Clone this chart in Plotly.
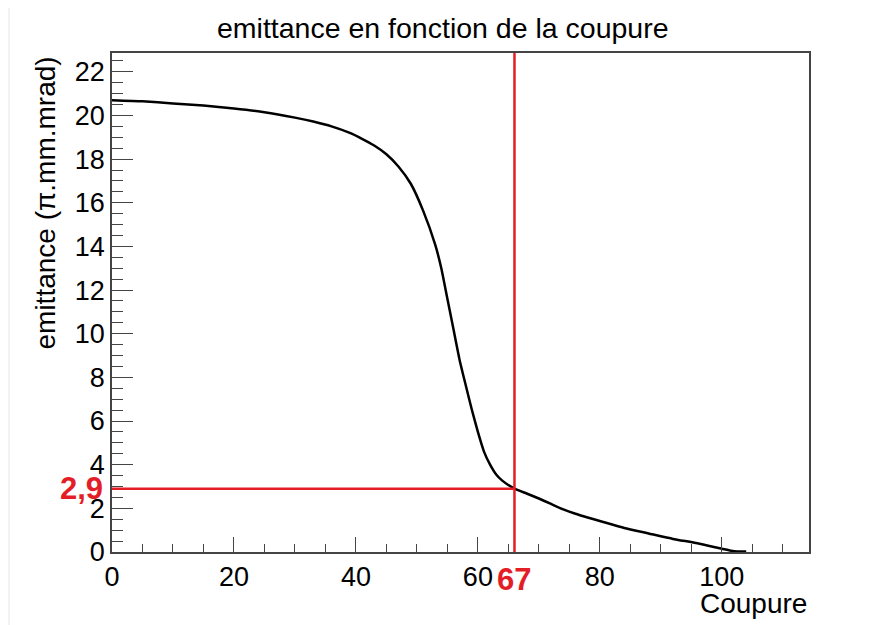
import plotly.graph_objects as go

# emittance vs cut
coupure = [0, 5, 10, 15, 20, 25, 30, 33, 36, 39, 41, 43, 45, 47, 49, 51, 53, 54, 55, 56, 57,
           58, 59, 60, 61, 62, 63, 64, 66, 68, 70, 72, 74, 76, 78, 80, 84, 88, 92, 96,
           100, 102, 104]
emittance = [20.7, 20.65, 20.55, 20.45, 20.32, 20.15, 19.9, 19.72, 19.5, 19.2, 18.93, 18.62,
             18.22, 17.65, 16.87, 15.65, 14.08, 13.0, 11.6, 10.2, 8.8, 7.65, 6.53, 5.5, 4.6,
             4.0, 3.55, 3.27, 2.9, 2.68, 2.45, 2.2, 1.95, 1.75, 1.58, 1.42, 1.1, 0.85, 0.6,
             0.4, 0.15, 0.03, 0.02]

cut_x = 66
cut_y = 2.9
cut_label_x = "67"
cut_label_y = "2,9"

x_range = [0, 114.3]
y_range = [0, 22.86]

# the page body adds an 8px margin around the figure
OFF = 8
W, H = 871 - OFF, 625 - OFF
L, R, T, B = 112 - OFF, 62, 53 - OFF, 73
PW, PH = W - L - R, H - T - B


def px(xp):
    # screen x pixel -> paper
    return (xp - OFF - L) / PW


def py(yp):
    # screen y pixel -> paper
    return (H - B - (yp - OFF)) / PH


RED = "#e41e26"
AXIS = "#444444"
FONT = "Liberation Sans, Arial, sans-serif"

fig = go.Figure()

fig.add_trace(go.Scatter(x=coupure, y=emittance, mode="lines", line_shape="spline",
                         line=dict(color="black", width=2.5, smoothing=0.5), showlegend=False))

# cut markers
fig.add_trace(go.Scatter(x=[cut_x, cut_x], y=y_range, mode="lines",
                         line=dict(color=RED, width=2.5), showlegend=False))
fig.add_trace(go.Scatter(x=[0, cut_x], y=[cut_y, cut_y], mode="lines",
                         line=dict(color=RED, width=2.5), showlegend=False))

fig.update_layout(
    width=W, height=H,
    margin=dict(l=L, r=R, t=T, b=B),
    paper_bgcolor="white", plot_bgcolor="white",
    font=dict(family=FONT, color="black", size=27),
    xaxis=dict(range=x_range, showgrid=False, zeroline=False,
               showline=True, linecolor=AXIS, linewidth=1.5, mirror=True,
               ticks="inside", ticklen=15, tickwidth=1, tickcolor=AXIS,
               tick0=0, dtick=20, tickfont=dict(size=27),
               minor=dict(ticks="inside", ticklen=8, dtick=5, tickcolor=AXIS, tickwidth=1)),
    yaxis=dict(range=y_range, showgrid=False, zeroline=False,
               showline=True, linecolor=AXIS, linewidth=1.5, mirror=True,
               ticks="inside", ticklen=21, tickwidth=1, tickcolor=AXIS,
               tick0=0, dtick=2, tickfont=dict(size=27),
               minor=dict(ticks="inside", ticklen=11, dtick=0.5, tickcolor=AXIS, tickwidth=1)),
)

annotations = [
    dict(text="emittance en fonction de la coupure", xref="paper", yref="paper",
         x=px(443), y=py(28), xanchor="center", yanchor="middle",
         showarrow=False, font=dict(size=28.5)),
    dict(text="emittance (π.mm.mrad)", xref="paper", yref="paper",
         x=px(45), y=py(55), xanchor="center", yanchor="top", textangle=-90,
         showarrow=False, font=dict(size=28)),
    dict(text="Coupure", xref="paper", yref="paper",
         x=px(809), y=py(603), xanchor="right", yanchor="middle",
         showarrow=False, font=dict(size=28)),
    dict(text="<b>" + cut_label_y + "</b>", xref="paper", yref="y",
         x=px(105), y=cut_y, xanchor="right", yanchor="middle",
         showarrow=False, font=dict(size=31, color=RED)),
    dict(text="<b>" + cut_label_x + "</b>", xref="x", yref="paper",
         x=cut_x, y=py(579), xanchor="center", yanchor="middle",
         showarrow=False, font=dict(size=31, color=RED)),
]
fig.update_layout(annotations=annotations)

# faint border of the canvas
fig.add_shape(type="line", xref="paper", yref="paper",
              x0=px(9), y0=py(6), x1=px(871), y1=py(6),
              line=dict(color="#e6e6e6", width=1))
fig.add_shape(type="line", xref="paper", yref="paper",
              x0=px(9), y0=py(6), x1=px(9), y1=py(625),
              line=dict(color="#e6e6e6", width=1))

fig.write_html("out.html")
